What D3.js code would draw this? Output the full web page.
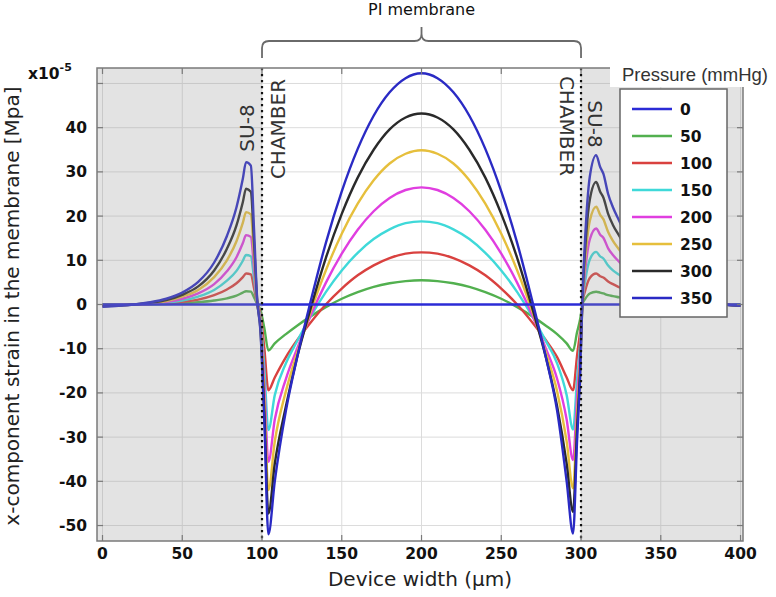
<!DOCTYPE html>
<html><head><meta charset="utf-8">
<script src="https://cdn.jsdelivr.net/npm/d3@7"></script>
<style>body{margin:0;background:#fff} svg{display:block}</style>
</head><body>
<svg id="c" width="776" height="597"></svg>
<script>
// Device width positions (µm)
const xs = [0, 10, 20, 30, 40, 50, 60, 70, 78, 84, 88, 90, 93, 95, 97,
  99, 101.5, 104,
  108, 115, 122, 130, 140, 150, 160, 170, 180, 190, 200,
  210, 220, 230, 240, 250, 260, 270, 278, 285, 291,
  295, 297.5, 299.5,
  301, 302.5, 305.5, 309.5, 312, 314, 317, 320, 324, 330, 340, 350, 360, 370, 380, 390, 400];

// strain values (x1e-5) per pressure
const s0 = [0,0,0,0,0,0,0,0,0,0, 0,0,0,0,0,0,0,0,0,0, 0,0,0,0,0,0,0,0,0,0,
  0,0,0,0,0,0,0,0,0,0, 0,0,0,0,0,0,0,0,0,0, 0,0,0,0,0,0,0,0,0];
const s50 = [0.0, 0.0, 0.0, 0.05, 0.1, 0.25, 0.5, 0.9, 1.4, 2.0, 2.7, 3.0, 2.9, 1.6, 0.1,
  -1.2, -5.4, -10.4,
  -8.8, -6.7, -4.8, -2.8, -0.6, 1.3, 2.8, 4.0, 4.8, 5.3, 5.5,
  5.3, 4.8, 4.0, 2.8, 1.3, -0.6, -2.8, -4.8, -6.7, -8.8,
  -10.5, -6.3, -3.2,
  0.2, 1.2, 2.5, 2.9, 2.7, 2.5, 2.1, 1.9, 1.6, 1.2, 0.8, 0.5, 0.3, 0.2, 0.1, 0.0, 0.0];
const s100 = [-0.1, -0.1, 0.0, 0.1, 0.3, 0.6, 1.1, 2.1, 3.4, 4.8, 6.2, 7.0, 6.8, 3.7, 0.2,
  -2.2, -10.1, -19.4,
  -16.5, -11.9, -8.1, -4.3, 0.0, 3.6, 6.6, 8.85, 10.5, 11.5, 11.8,
  11.5, 10.5, 8.85, 6.6, 3.6, 0.0, -4.3, -8.1, -11.9, -16.5,
  -19.4, -11.6, -5.8,
  0.6, 3.0, 6.0, 7.0, 6.4, 6.1, 5.2, 4.6, 3.9, 2.9, 1.8, 1.1, 0.7, 0.4, 0.2, 0.0, -0.1];
const s150 = [-0.2, -0.1, 0.0, 0.2, 0.45, 0.9, 1.8, 3.3, 5.4, 7.6, 9.9, 11.2, 10.9, 5.9, 0.3,
  -3.2, -14.8, -28.4,
  -20.5, -13.3, -8.3, -3.0, 2.8, 7.7, 11.7, 14.8, 17.0, 18.4, 18.8,
  18.4, 17.0, 14.8, 11.7, 7.7, 2.8, -3.0, -8.3, -13.3, -20.5,
  -28.3, -17.0, -8.5,
  1.0, 5.1, 10.2, 11.9, 10.9, 10.4, 8.8, 7.7, 6.7, 5.0, 3.1, 1.9, 1.2, 0.7, 0.3, 0.0, -0.1];
const s200 = [-0.2, -0.1, 0.0, 0.25, 0.6, 1.3, 2.5, 4.6, 7.5, 10.7, 13.9, 15.7, 15.3, 8.3, 0.5,
  -4.0, -18.5, -35.6,
  -26, -16.8, -10.0, -2.9, 4.9, 11.5, 16.9, 21.1, 24.1, 25.9, 26.5,
  25.9, 24.1, 21.1, 16.9, 11.5, 4.9, -2.9, -10.0, -16.8, -26,
  -35.2, -21.1, -10.6,
  1.4, 7.4, 14.7, 17.2, 15.8, 15.1, 12.7, 11.2, 9.6, 7.2, 4.5, 2.8, 1.7, 0.9, 0.4, 0.0, -0.2];
const s250 = [-0.3, -0.2, 0.0, 0.3, 0.8, 1.8, 3.3, 6.2, 10.0, 14.3, 18.5, 20.9, 20.4, 11.1, 0.6,
  -4.8, -21.8, -42.0,
  -31, -19.6, -11.0, -2.1, 7.7, 16.0, 22.8, 28.1, 31.9, 34.1, 34.9,
  34.1, 31.9, 28.1, 22.8, 16.0, 7.7, -2.1, -11.0, -19.6, -31,
  -41.6, -25.0, -12.5,
  1.8, 9.5, 18.9, 22.1, 20.3, 19.3, 16.4, 14.4, 12.4, 9.3, 5.7, 3.5, 2.2, 1.2, 0.6, 0.0, -0.2];
const s300 = [-0.4, -0.2, 0.0, 0.4, 1.0, 2.2, 4.1, 7.7, 12.6, 17.9, 23.2, 26.2, 25.5, 13.9, 0.8,
  -5.5, -24.6, -47.3,
  -36, -23, -12.0, -1.5, 10.5, 20.5, 28.7, 35.0, 39.6, 42.3, 43.2,
  42.3, 39.6, 35.0, 28.7, 20.5, 10.5, -1.5, -12.0, -23, -36,
  -46.9, -28.1, -14.1,
  2.2, 11.9, 23.7, 27.7, 25.5, 24.2, 20.5, 18.0, 15.5, 11.6, 7.2, 4.4, 2.8, 1.5, 0.7, 0.0, -0.3];
const s350 = [-0.5, -0.3, 0.0, 0.5, 1.3, 2.7, 5.1, 9.5, 15.5, 22.0, 28.5, 32.2, 31.4, 17.0, 1.0,
  -6, -27, -52,
  -40, -24, -12, 0, 13.9, 25.6, 35.2, 42.7, 48.0, 51.2, 52.3,
  51.2, 48.0, 42.7, 35.2, 25.6, 13.9, 0, -12, -24, -40,
  -51.8, -31, -15.5,
  2.7, 14.5, 28.9, 33.8, 31.1, 29.6, 25.0, 22.0, 18.9, 14.2, 8.8, 5.4, 3.4, 1.9, 0.8, 0.0, -0.3];

const pressures = ["0", "50", "100", "150", "200", "250", "300", "350"];
const seriesValues = [s0, s50, s100, s150, s200, s250, s300, s350];
const colors = ["#2b2bd6", "#52b04f", "#d9413f", "#3fd9d9", "#e03ee0", "#e6bf3c", "#2a2a2a", "#2a2ac4"];

const xTicks = [0, 50, 100, 150, 200, 250, 300, 350, 400];
const yTicks = [-50, -40, -30, -20, -10, 0, 10, 20, 30, 40, 50];
const yTickLabels = [-50, -40, -30, -20, -10, 0, 10, 20, 30, 40];
const regionBounds = [100, 300];

const svg = d3.select("#c");
const L = 97, R = 743, T = 68, B = 541;
const x = d3.scaleLinear().domain([-3.45, 401.55]).range([L, R]);
const y = d3.scaleLinear().domain([-53.5, 53.5]).range([B, T]);

svg.append("rect").attr("width", 776).attr("height", 597).attr("fill", "#fff");

svg.append("defs").append("clipPath").attr("id", "plot")
  .append("rect").attr("x", L).attr("y", T).attr("width", R - L).attr("height", B - T);

// grid
const grid = svg.append("g").attr("stroke", "#dcdcdc").attr("stroke-width", 1);
grid.selectAll(".gx").data(xTicks).join("line").attr("class", "gx")
  .attr("x1", d => x(d)).attr("x2", d => x(d)).attr("y1", T).attr("y2", B);
grid.selectAll(".gy").data(yTicks).join("line").attr("class", "gy")
  .attr("y1", d => y(d)).attr("y2", d => y(d)).attr("x1", L).attr("x2", R);

// curves
const line = d3.line().x((d, i) => x(xs[i])).y(d => y(d)).curve(d3.curveMonotoneX);
const order = [1, 2, 3, 4, 5, 6, 7, 0];
const cg = svg.append("g").attr("clip-path", "url(#plot)");
cg.selectAll("path").data(order).join("path")
  .attr("d", i => line(seriesValues[i]))
  .attr("fill", "none").attr("stroke", i => colors[i])
  .attr("stroke-width", 2.4).attr("stroke-linejoin", "round");

// grey SU-8 shading (semi-transparent overlay)
svg.append("rect").attr("x", L).attr("y", T).attr("width", x(regionBounds[0]) - L).attr("height", B - T)
  .attr("fill", "#999").attr("opacity", 0.27);
svg.append("rect").attr("x", x(regionBounds[1])).attr("y", T).attr("width", R - x(regionBounds[1])).attr("height", B - T)
  .attr("fill", "#999").attr("opacity", 0.27);

// dotted boundaries
svg.selectAll(".bd").data(regionBounds).join("line").attr("class", "bd")
  .attr("x1", d => x(d)).attr("x2", d => x(d)).attr("y1", T).attr("y2", B)
  .attr("stroke", "#111").attr("stroke-width", 2.2).attr("stroke-dasharray", "2.2,3.8");

// frame and ticks
const fc = "#7a7a7a";
svg.append("rect").attr("x", L).attr("y", T).attr("width", R - L).attr("height", B - T)
  .attr("fill", "none").attr("stroke", fc).attr("stroke-width", 1.5);
const tk = svg.append("g").attr("stroke", fc).attr("stroke-width", 1.2);
xTicks.forEach(d => {
  tk.append("line").attr("x1", x(d)).attr("x2", x(d)).attr("y1", B).attr("y2", B - 6);
  tk.append("line").attr("x1", x(d)).attr("x2", x(d)).attr("y1", T).attr("y2", T + 6);
});
yTicks.forEach(d => {
  tk.append("line").attr("y1", y(d)).attr("y2", y(d)).attr("x1", L).attr("x2", L + 6);
  tk.append("line").attr("y1", y(d)).attr("y2", y(d)).attr("x1", R).attr("x2", R - 6);
});

// tick labels
const tf = "DejaVu Sans, sans-serif";
svg.append("g").selectAll("text").data(xTicks).join("text")
  .attr("x", d => x(d)).attr("y", 559).attr("text-anchor", "middle")
  .attr("font-family", tf).attr("font-weight", "bold").attr("font-size", 15.5).attr("fill", "#111")
  .text(d => d);
svg.append("g").selectAll("text").data(yTickLabels).join("text")
  .attr("x", 87).attr("y", d => y(d)).attr("dy", "0.36em").attr("text-anchor", "end")
  .attr("font-family", tf).attr("font-weight", "bold").attr("font-size", 15.5).attr("fill", "#111")
  .text(d => d);

// exponent
const ex = svg.append("text").attr("x", 28).attr("y", 79)
  .attr("font-family", tf).attr("font-weight", "bold").attr("font-size", 15.5).attr("fill", "#111");
ex.append("tspan").text("x10");
ex.append("tspan").attr("font-size", 11).attr("dy", -8).text("-5");

// axis titles
svg.append("text").attr("x", 420).attr("y", 586).attr("text-anchor", "middle")
  .attr("font-family", tf).attr("font-size", 20).attr("fill", "#222").text("Device width (µm)");
svg.append("text").attr("transform", "translate(12,306) rotate(-90)").attr("dy", "0.36em")
  .attr("text-anchor", "middle").attr("font-family", tf).attr("font-size", 20).attr("fill", "#222")
  .text("x-component strain in the membrane [Mpa]");

// region labels
const regionLabels = [
  {t: "SU-8", cx: 247, cy: 128, r: -90},
  {t: "CHAMBER", cx: 278, cy: 129, r: -90},
  {t: "CHAMBER", cx: 567, cy: 126, r: 90},
  {t: "SU-8", cx: 595, cy: 124, r: 90}
];
svg.append("g").selectAll("text").data(regionLabels).join("text")
  .attr("transform", d => `translate(${d.cx},${d.cy}) rotate(${d.r})`).attr("dy", "0.36em")
  .attr("text-anchor", "middle").attr("font-family", tf).attr("font-size", 20).attr("fill", "#333")
  .text(d => d.t);

// bracket + PI membrane
const bx0 = x(regionBounds[0]), bx1 = x(regionBounds[1]), bm = (bx0 + bx1) / 2;
svg.append("path")
  .attr("d", `M${bx0},58 V48 Q${bx0},41 ${bx0 + 7},41 H${bm - 7} Q${bm},41 ${bm},34 V27 M${bm},34 Q${bm},41 ${bm + 7},41 H${bx1 - 7} Q${bx1},41 ${bx1},48 V58`)
  .attr("fill", "none").attr("stroke", "#6a6a6a").attr("stroke-width", 1.8);
svg.append("text").attr("x", bm).attr("y", 15).attr("text-anchor", "middle")
  .attr("font-family", tf).attr("font-size", 16).attr("fill", "#111").text("PI membrane");

// legend
svg.append("rect").attr("x", 610).attr("y", 60).attr("width", 166).attr("height", 27).attr("fill", "#fff");
svg.append("text").attr("x", 622).attr("y", 81).attr("font-family", "Liberation Sans, Arial, sans-serif")
  .attr("font-size", 18.5).attr("fill", "#333").text("Pressure (mmHg)");
svg.append("rect").attr("x", 620).attr("y", 89).attr("width", 107).attr("height", 228)
  .attr("fill", "#fff").attr("stroke", "#666").attr("stroke-width", 1.5);
const lg = svg.append("g").selectAll("g").data(pressures).join("g")
  .attr("transform", (d, i) => `translate(0,${109 + i * 27})`);
lg.append("line").attr("x1", 632).attr("x2", 672).attr("stroke", (d, i) => colors[i]).attr("stroke-width", 2.5);
lg.append("text").attr("x", 680).attr("dy", "0.36em").attr("font-family", tf).attr("font-weight", "bold")
  .attr("font-size", 15.5).attr("fill", "#111").text(d => d);
</script>
</body></html>
